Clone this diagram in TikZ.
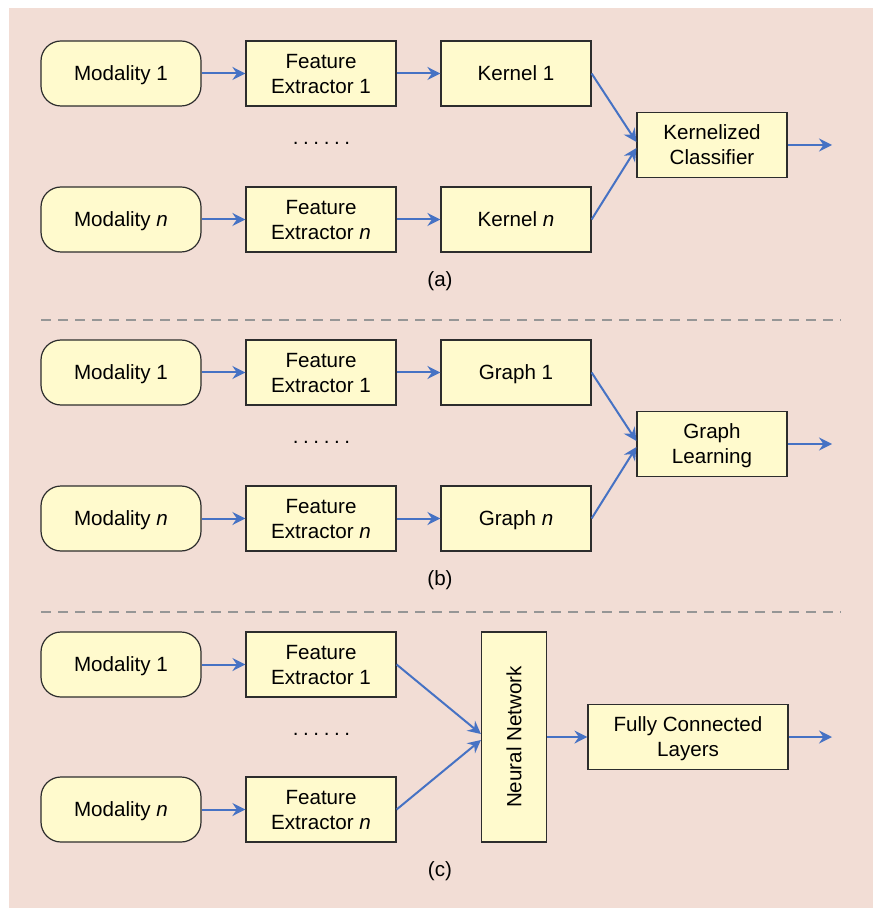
\documentclass[tikz,border=0pt]{standalone}
\usepackage{fontspec}
\usepackage{graphicx}
\setmainfont{Liberation Sans}
\usetikzlibrary{arrows.meta}

\definecolor{bgpink}{RGB}{242,221,213}
\definecolor{boxfill}{RGB}{255,250,205}
\definecolor{boxline}{RGB}{45,45,45}
\definecolor{flowblue}{RGB}{70,114,196}
\definecolor{sepgray}{RGB}{150,150,150}

\newcommand{\dotrow}{.\kern2.3pt.\kern2.3pt.\kern2.3pt.\kern2.3pt.\kern2.3pt.}

\begin{document}
\begin{tikzpicture}[x=0.5pt, y=-0.5pt, font=\fontsize{10.3}{12.5}\selectfont,
	box/.style={draw=boxline, fill=boxfill, line width=0.6pt, align=center, inner sep=0pt,
		text depth=0pt, minimum width=75pt, minimum height=32.5pt},
	modbox/.style={box, rounded corners=10pt, minimum width=80pt},
	flow/.style={draw=flowblue, line width=1pt, -{Stealth[length=6.5pt,width=6.5pt,inset=2.2pt]}},
	sepline/.style={draw=sepgray, line width=1.3pt, dash pattern=on 5pt off 3.5pt}]
	\useasboundingbox (0,0) rectangle (873,908);
	\fill[bgpink] (9,8) rectangle (873,908);

	% (a) kernels
	\node[modbox] (M1a) at (121,73.5) {Modality 1};
	\node[modbox] (Mna) at (121,219.5) {Modality \textit{n}};
	\node[box] (F1a) at (321,73.5) {Feature\\Extractor 1};
	\node[box] (Fna) at (321,219.5) {Feature\\Extractor \textit{n}};
	\node[box] (K1) at (516,73.5) {Kernel 1};
	\node[box] (Kn) at (516,219.5) {Kernel \textit{n}};
	\node[box] (KC) at (712,145) {Kernelized\\Classifier};
	\coordinate (outa) at (832,145);
	\node (dotsa) at (321.5,143) {\dotrow};
	\node (capa) at (440,281) {(a)};

	\draw[flow] (M1a) -- (F1a);
	\draw[flow] (Mna) -- (Fna);
	\draw[flow] (F1a) -- (K1);
	\draw[flow] (Fna) -- (Kn);
	\draw[flow] (K1.east) -- ([yshift=1.5pt]KC.west);
	\draw[flow] (Kn.east) -- ([yshift=-1.5pt]KC.west);
	\draw[flow] (KC) -- (outa);

	\draw[sepline] (41,320) -- (841,320);

	% (b) graphs
	\node[modbox] (M1b) at (121,372.5) {Modality 1};
	\node[modbox] (Mnb) at (121,518.5) {Modality \textit{n}};
	\node[box] (F1b) at (321,372.5) {Feature\\Extractor 1};
	\node[box] (Fnb) at (321,518.5) {Feature\\Extractor \textit{n}};
	\node[box] (G1) at (516,372.5) {Graph 1};
	\node[box] (Gn) at (516,518.5) {Graph \textit{n}};
	\node[box] (GL) at (712,444) {Graph\\Learning};
	\coordinate (outb) at (832,444);
	\node (dotsb) at (321.5,442) {\dotrow};
	\node (capb) at (440,580) {(b)};

	\draw[flow] (M1b) -- (F1b);
	\draw[flow] (Mnb) -- (Fnb);
	\draw[flow] (F1b) -- (G1);
	\draw[flow] (Fnb) -- (Gn);
	\draw[flow] (G1.east) -- ([yshift=1.5pt]GL.west);
	\draw[flow] (Gn.east) -- ([yshift=-1.5pt]GL.west);
	\draw[flow] (GL) -- (outb);

	\draw[sepline] (41,612) -- (841,612);

	% (c) neural network
	\node[modbox] (M1c) at (121,664.5) {Modality 1};
	\node[modbox] (Mnc) at (121,809.5) {Modality \textit{n}};
	\node[box] (F1c) at (321,664.5) {Feature\\Extractor 1};
	\node[box] (Fnc) at (321,809.5) {Feature\\Extractor \textit{n}};
	\node[box, minimum width=32.5pt, minimum height=105pt] (NN) at (514,737) {\rotatebox{90}{Neural Network}};
	\node[box, minimum width=100pt] (FC) at (688,737) {Fully Connected\\Layers};
	\coordinate (outc) at (832,737);
	\node (dotsc) at (321.5,734) {\dotrow};
	\node (capc) at (440,871) {(c)};

	\draw[flow] (M1c) -- (F1c);
	\draw[flow] (Mnc) -- (Fnc);
	\draw[flow] (F1c.east) -- ([yshift=1.5pt]NN.west);
	\draw[flow] (Fnc.east) -- ([yshift=-1.5pt]NN.west);
	\draw[flow] (NN) -- (FC);
	\draw[flow] (FC) -- (outc);
\end{tikzpicture}
\end{document}
